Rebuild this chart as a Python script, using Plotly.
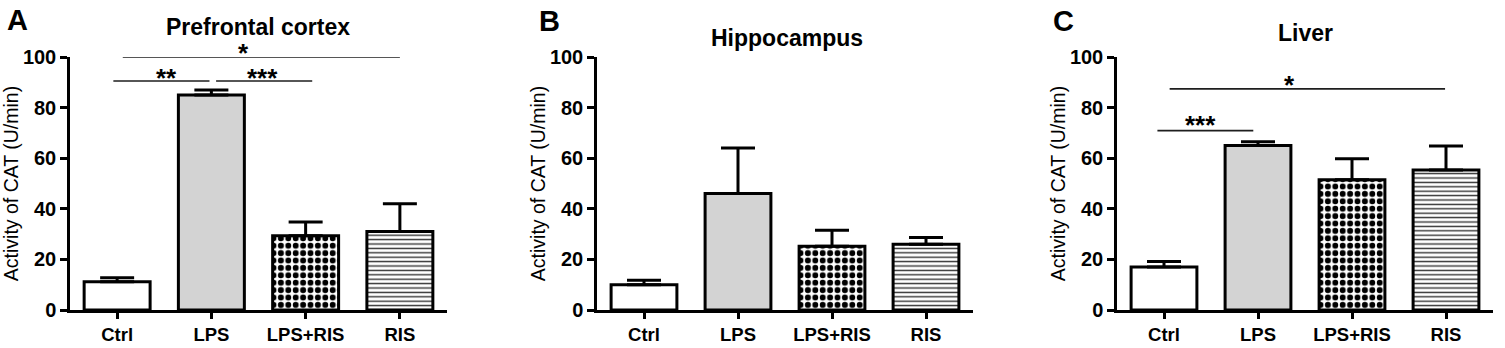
import plotly.graph_objects as go

W, H = 1505, 348
OFF = 0  # body margin removed via post_script below
FW, FH = W - OFF, H - OFF

categories = ["Ctrl", "LPS", "LPS+RIS", "RIS"]

pfc_mean = [11.2, 85.0, 29.3, 31.0]
pfc_err = [1.5, 2.0, 5.5, 11.0]
hip_mean = [10.0, 46.0, 25.2, 26.0]
hip_err = [1.8, 18.0, 6.3, 2.7]
liv_mean = [17.0, 65.0, 51.5, 55.3]
liv_err = [2.2, 1.5, 8.3, 9.5]

panel_titles = ["Prefrontal cortex", "Hippocampus", "Liver"]
panel_letters = ["A", "B", "C"]
y_ticks = [0, 20, 40, 60, 80, 100]
y_title = "Activity of CAT (U/min)"

# significance brackets
sig_A_x0 = [0.06, -0.04, 1.05]
sig_A_x1 = [3.0, 0.98, 2.07]
sig_A_y = [100.0, 90.5, 90.5]
sig_A_text = ["*", "**", "***"]
sig_A_tx = [1.34, 0.52, 1.54]
sig_A_ty = [104.0, 94.0, 94.0]

sig_C_x0 = [0.06, -0.07]
sig_C_x1 = [2.99, 0.95]
sig_C_y = [87.4, 70.9]
sig_C_text = ["*", "***"]
sig_C_tx = [1.33, 0.39]
sig_C_ty = [91.4, 75.5]

FONT = "Liberation Sans, Arial, Helvetica, sans-serif"
fill_colors = ["white", "#d3d3d3", "white", "white"]
pattern_shapes = ["", "", ".", "-"]
pattern_fg = ["black", "black", "black", "#333333"]
pattern_size = [6, 6, 7.4, 4.4]
pattern_solid = [0.3, 0.3, 0.5, 0.32]

x_px = [(70, 447), (597, 973), (1117, 1493)]
y_top_px, y_bot_px = 57, 310


def px_x(px):
    return (px - OFF) / FW


def px_y(py):
    return 1 - (py - OFF) / FH


y_dom = [px_y(y_bot_px), px_y(y_top_px)]
Y_MAX = 100.0

fig = go.Figure()
means = [pfc_mean, hip_mean, liv_mean]
errs = [pfc_err, hip_err, liv_err]

for i in range(3):
    xa = "x" if i == 0 else f"x{i+1}"
    ya = "y" if i == 0 else f"y{i+1}"
    for j, cat in enumerate(categories):
        pat = dict(shape=pattern_shapes[j], fgcolor=pattern_fg[j], bgcolor=fill_colors[j],
                   size=pattern_size[j], solidity=pattern_solid[j], fillmode="replace")
        fig.add_trace(go.Bar(
            x=[j], y=[means[i][j]], xaxis=xa, yaxis=ya,
            width=0.70,
            marker=dict(color=fill_colors[j], line=dict(color="black", width=3), pattern=pat),
            error_y=dict(type="data", symmetric=False, array=[errs[i][j]],
                         arrayminus=[0], color="black", thickness=3, width=17),
            showlegend=False, hoverinfo="skip", name=cat,
        ))


def to_paper_y(v):
    return y_dom[0] + v / Y_MAX * (y_dom[1] - y_dom[0])


def add_sig(panel, x0s, x1s, ys, texts, txs, tys):
    xa = "x" if panel == 0 else f"x{panel+1}"
    ya = "y" if panel == 0 else f"y{panel+1}"
    for x0, x1, y, t, tx, ty in zip(x0s, x1s, ys, texts, txs, tys):
        fig.add_trace(go.Scatter(x=[x0, x1], y=[y, y], xaxis=xa, yaxis=ya, mode="lines",
                                 line=dict(color="#1e1e1e", width=1.6), cliponaxis=False,
                                 showlegend=False, hoverinfo="skip"))
        fig.add_annotation(x=tx, y=to_paper_y(ty), xref=xa, yref="paper", text=t, showarrow=False,
                           xanchor="center", yanchor="middle", yshift=-6,
                           font=dict(family=FONT, size=26, color="black", weight="bold"))


add_sig(0, sig_A_x0, sig_A_x1, sig_A_y, sig_A_text, sig_A_tx, sig_A_ty)
add_sig(2, sig_C_x0, sig_C_x1, sig_C_y, sig_C_text, sig_C_tx, sig_C_ty)

layout = dict(
    width=FW, height=FH, margin=dict(l=0, r=0, t=0, b=0, pad=0, autoexpand=False),
    paper_bgcolor="white", plot_bgcolor="white",
    font=dict(family=FONT, color="black"),
    barmode="overlay",
)
for i in range(3):
    xk = "xaxis" if i == 0 else f"xaxis{i+1}"
    yk = "yaxis" if i == 0 else f"yaxis{i+1}"
    xa = "x" if i == 0 else f"x{i+1}"
    ya = "y" if i == 0 else f"y{i+1}"
    layout[xk] = dict(
        domain=[px_x(x_px[i][0]), px_x(x_px[i][1])], anchor=ya, automargin=False,
        range=[-0.5, 3.5], tickvals=list(range(len(categories))), ticktext=categories,
        showline=True, linecolor="black", linewidth=2.5, ticks="outside",
        ticklen=6, tickwidth=2.5, tickcolor="black", showgrid=False, zeroline=False,
        tickfont=dict(family=FONT, size=18.5, color="black", weight="bold"),
    )
    layout[yk] = dict(
        domain=y_dom, anchor=xa, range=[0, Y_MAX], tickvals=y_ticks, automargin=False,
        showline=True, linecolor="black", linewidth=2.5, ticks="outside",
        ticklen=7, tickwidth=2.5, tickcolor="black", showgrid=False, zeroline=False,
        tickfont=dict(family=FONT, size=20, color="black", weight="bold"),
        title=dict(text=y_title, font=dict(family=FONT, size=19.5, color="black"), standoff=0),
    )
fig.update_layout(**layout)

title_px = [(258, 27), (787, 38), (1305, 33)]
letter_px = [(17, 20), (549, 21), (1063, 21)]
for i in range(3):
    fig.add_annotation(x=px_x(title_px[i][0]), y=px_y(title_px[i][1]), xref="paper", yref="paper",
                       text=panel_titles[i], showarrow=False, xanchor="center", yanchor="middle",
                       font=dict(family=FONT, size=23, color="black", weight="bold"))
    fig.add_annotation(x=px_x(letter_px[i][0]), y=px_y(letter_px[i][1]), xref="paper", yref="paper",
                       text=panel_letters[i], showarrow=False, xanchor="center", yanchor="middle",
                       font=dict(family=FONT, size=29, color="black", weight="bold"))

fig.write_html("out.html", config={"displayModeBar": False},
               post_script="document.body.style.margin='0';document.body.style.overflow='hidden';")
